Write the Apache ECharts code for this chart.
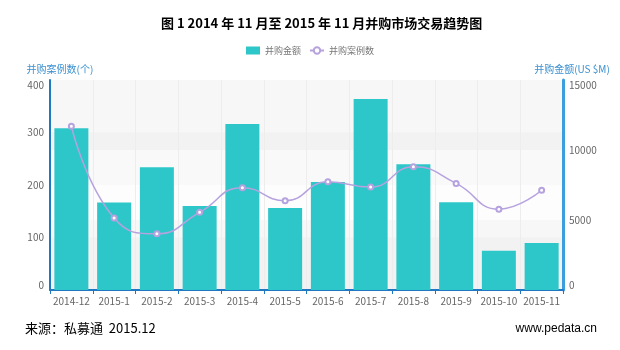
<!DOCTYPE html>
<html>
<head>
<meta charset="utf-8">
<script src="https://cdn.jsdelivr.net/npm/echarts@6/dist/echarts.min.js"></script>
<style>
  html, body { margin: 0; padding: 0; background: #fff; }
  #chart { width: 620px; height: 350px; }
</style>
</head>
<body>
<div id="chart"></div>
<script>
// Monthly M&A activity, Dec 2014 – Nov 2015
const months = ['2014-12', '2015-1', '2015-2', '2015-3', '2015-4', '2015-5',
                '2015-6', '2015-7', '2015-8', '2015-9', '2015-10', '2015-11'];
// Deal value, US $M (bars, right axis)
const dealValue = [11550, 6250, 8760, 6000, 11860, 5860, 7710, 13640, 8980, 6260, 2810, 3360];
// Number of deals (smoothed line, left axis)
const dealCount = [312, 137, 107, 148, 195, 170, 206, 196, 235, 203, 154, 190];
const countTicks = [0, 100, 200, 300, 400];
const valueTicks = [0, 5000, 10000, 15000];

const FONT = '"Noto Sans CJK SC", "Noto Sans", sans-serif';
const bandStyle = { color: ['rgba(200,200,200,0.13)', 'rgba(250,250,250,0.25)'] };

const chart = echarts.init(document.getElementById('chart'), null, { renderer: 'canvas' });
chart.setOption({
  backgroundColor: '#ffffff',
  animation: false,
  title: {
    text: '图 1 2014 年 11 月至 2015 年 11 月并购市场交易趋势图',
    left: 156, top: 12,
    textStyle: { fontFamily: FONT, fontSize: 13, fontWeight: 'bold', color: '#000' }
  },
  legend: {
    top: 41, left: 'center',
    itemWidth: 14, itemHeight: 8, itemGap: 8,
    textStyle: { fontFamily: FONT, fontSize: 9, color: '#777' },
    data: [
      { name: '并购金额', icon: 'rect' },
      { name: '并购案例数' }
    ]
  },
  grid: { left: 50, right: 57, top: 80, bottom: 60 },
  xAxis: {
    type: 'category',
    data: months,
    boundaryGap: true,
    axisLine: { lineStyle: { color: '#1f78c1', width: 2 } },
    axisTick: { show: true, length: 4, lineStyle: { color: '#1f78c1' } },
    axisLabel: { fontFamily: FONT, fontSize: 10, color: '#666', margin: 6, interval: 0 },
    splitLine: { show: true, lineStyle: { color: '#ededed', width: 1 } }
  },
  yAxis: [
    {
      type: 'value',
      name: '并购案例数(个)',
      nameGap: 6,
      nameTextStyle: { fontFamily: FONT, fontSize: 10, color: '#3a90d0', padding: [0, 0, 0, 20] },
      min: countTicks[0], max: countTicks[countTicks.length - 1], interval: 100,
      position: 'left',
      axisLine: { show: true, lineStyle: { color: '#1f78c1', width: 2 } },
      axisTick: { show: false },
      axisLabel: { fontFamily: FONT, fontSize: 10, color: '#666', margin: 6,
                   verticalAlignMinLabel: 'bottom', verticalAlignMaxLabel: 'top' },
      splitLine: { show: false },
      splitArea: { show: true, areaStyle: bandStyle }
    },
    {
      type: 'value',
      name: '并购金额(US $M)',
      nameGap: 6,
      nameTextStyle: { fontFamily: FONT, fontSize: 10, color: '#3a90d0', padding: [0, 0, 0, 18] },
      min: valueTicks[0], max: valueTicks[valueTicks.length - 1], interval: 5000,
      position: 'right',
      axisLine: { show: true, lineStyle: { color: '#3a9fdc', width: 3 } },
      axisTick: { show: false },
      axisLabel: { fontFamily: FONT, fontSize: 10, color: '#666', margin: 6,
                   formatter: (v) => String(v),
                   verticalAlignMinLabel: 'bottom', verticalAlignMaxLabel: 'top' },
      splitLine: { show: false },
      splitArea: { show: true, areaStyle: bandStyle }
    }
  ],
  series: [
    {
      name: '并购金额',
      type: 'bar',
      yAxisIndex: 1,
      data: dealValue,
      barWidth: 34,
      itemStyle: { color: '#2ec7c9' }
    },
    {
      name: '并购案例数',
      type: 'line',
      yAxisIndex: 0,
      data: dealCount,
      smooth: true,
      symbol: 'emptyCircle',
      symbolSize: 5,
      itemStyle: { color: '#b6a2de', borderColor: '#b6a2de', borderWidth: 1 },
      lineStyle: { color: '#b6a2de', width: 1.5 }
    }
  ],
  graphic: [
    {
      type: 'text', left: 25, top: 322,
      style: { text: '来源：私募通  2015.12', font: '13px "Noto Sans CJK SC", sans-serif', fill: '#000' }
    },
    {
      type: 'text', right: 23, top: 323,
      style: { text: 'www.pedata.cn', font: '12px "Liberation Sans", Arial, sans-serif', fill: '#000' }
    }
  ]
});
</script>
</body>
</html>
